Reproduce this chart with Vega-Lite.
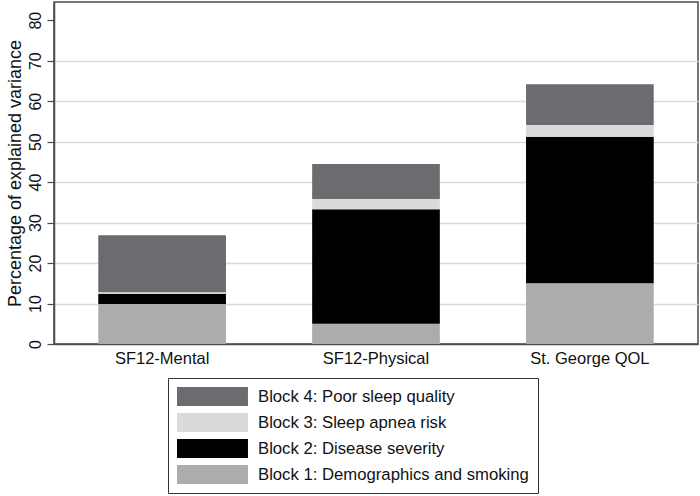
{
  "$schema": "https://vega.github.io/schema/vega-lite/v6.json",
  "width": 644,
  "height": 342,
  "autosize": {"type": "none"},
  "padding": {"left": 54, "top": 2, "right": 2, "bottom": 152},
  "config": {
    "font": "Liberation Sans",
    "view": {"stroke": "#4a4a4a", "strokeWidth": 1.5},
    "axisY": {"labelAngle": 270}
  },
  "data": {
    "values": [
      {"outcome": "SF12-Mental", "block": "Block 1: Demographics and smoking", "blocknum": 1, "value": 9.9},
      {"outcome": "SF12-Mental", "block": "Block 2: Disease severity", "blocknum": 2, "value": 2.5},
      {"outcome": "SF12-Mental", "block": "Block 3: Sleep apnea risk", "blocknum": 3, "value": 0.4},
      {"outcome": "SF12-Mental", "block": "Block 4: Poor sleep quality", "blocknum": 4, "value": 14.1},
      {"outcome": "SF12-Physical", "block": "Block 1: Demographics and smoking", "blocknum": 1, "value": 5.0},
      {"outcome": "SF12-Physical", "block": "Block 2: Disease severity", "blocknum": 2, "value": 28.3},
      {"outcome": "SF12-Physical", "block": "Block 3: Sleep apnea risk", "blocknum": 3, "value": 2.5},
      {"outcome": "SF12-Physical", "block": "Block 4: Poor sleep quality", "blocknum": 4, "value": 8.65},
      {"outcome": "St. George QOL", "block": "Block 1: Demographics and smoking", "blocknum": 1, "value": 15.0},
      {"outcome": "St. George QOL", "block": "Block 2: Disease severity", "blocknum": 2, "value": 36.2},
      {"outcome": "St. George QOL", "block": "Block 3: Sleep apnea risk", "blocknum": 3, "value": 2.9},
      {"outcome": "St. George QOL", "block": "Block 4: Poor sleep quality", "blocknum": 4, "value": 10.05}
    ]
  },
  "mark": {"type": "bar"},
  "encoding": {
    "x": {
      "field": "outcome",
      "type": "nominal",
      "sort": ["SF12-Mental", "SF12-Physical", "St. George QOL"],
      "scale": {"paddingInner": 0.403, "paddingOuter": 0.207},
      "axis": {
        "title": null,
        "labelAngle": 0,
        "ticks": false,
        "labelFontSize": 16.5,
        "labelColor": "#111",
        "labelPadding": 6,
        "domainColor": "#4a4a4a",
        "domainWidth": 1.5
      }
    },
    "y": {
      "field": "value",
      "type": "quantitative",
      "stack": "zero",
      "scale": {"domain": [0, 84.5], "nice": false},
      "axis": {
        "values": [0, 10, 20, 30, 40, 50, 60, 70, 80],
        "title": "Percentage of explained variance",
        "titleFontSize": 18,
        "titleFontWeight": "normal",
        "titleColor": "#111",
        "titlePadding": 3,
        "labelAngle": 270,
        "labelFontSize": 16,
        "labelColor": "#111",
        "labelPadding": 4,
        "tickSize": 7,
        "tickColor": "#4a4a4a",
        "tickWidth": 1.2,
        "domainColor": "#4a4a4a",
        "domainWidth": 1.5,
        "grid": true,
        "gridWidth": 1.5,
        "gridColor": {"condition": {"test": "datum.value == 0 || datum.value == 80", "value": "transparent"}, "value": "#dadada"}
      }
    },
    "color": {
      "field": "block",
      "type": "nominal",
      "scale": {
        "domain": ["Block 4: Poor sleep quality", "Block 3: Sleep apnea risk", "Block 2: Disease severity", "Block 1: Demographics and smoking"],
        "range": ["#6b6c70", "#d9dbdb", "#000000", "#abacae"]
      },
      "legend": {
        "title": null,
        "orient": "none",
        "legendX": 114,
        "legendY": 376,
        "symbolType": "M-1,-1H6.47V1H-1Z",
        "symbolSize": 361,
        "symbolStrokeWidth": 0,
        "symbolOpacity": 1,
        "labelFontSize": 16.7,
        "labelColor": "#111",
        "labelOffset": 62,
        "labelLimit": 400,
        "rowPadding": 7,
        "strokeColor": "#333",
        "fillColor": "white",
        "padding": 9
      }
    },
    "order": {"field": "blocknum", "type": "quantitative"}
  }
}
